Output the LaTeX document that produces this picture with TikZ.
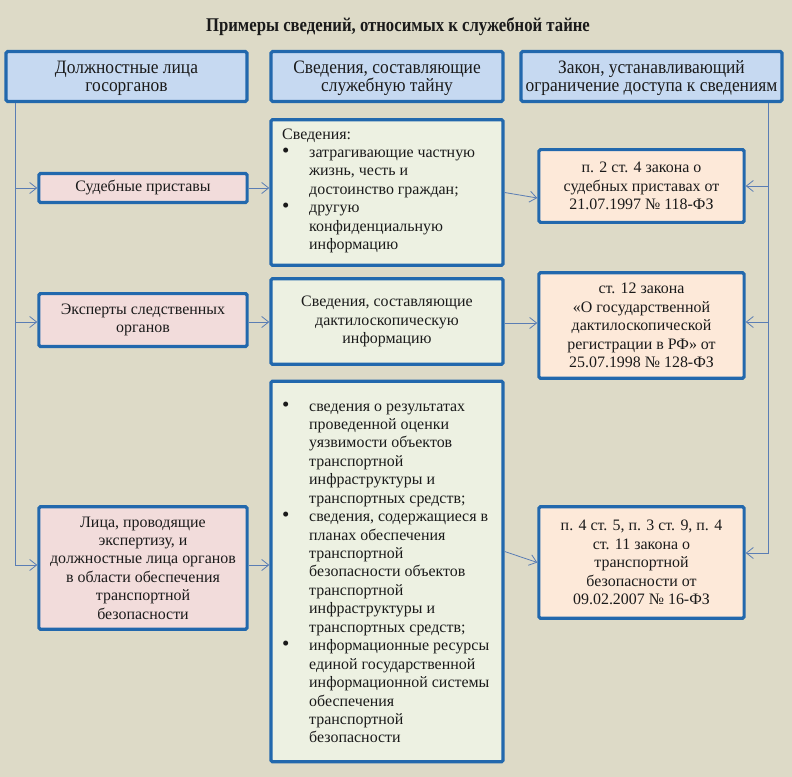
\documentclass[tikz,border=0pt]{standalone}
\usepackage{fontspec}
\setmainfont{Liberation Serif}
\newfontfamily\condfont[FakeStretch=0.86]{Liberation Serif}
\newfontfamily\hdrfont[FakeStretch=0.92]{Liberation Serif}
\usetikzlibrary{arrows.meta,calc}
\definecolor{bgcol}{HTML}{DDDAC7}
\definecolor{bordcol}{HTML}{2268AD}
\definecolor{hfill}{HTML}{C6D9F1}
\definecolor{pinkfill}{HTML}{F2DCDB}
\definecolor{greenfill}{HTML}{EDF1E2}
\definecolor{peachfill}{HTML}{FDE9D9}
\definecolor{linecol}{HTML}{5A7DB4}
\definecolor{txtcol}{HTML}{1A1A1A}
\newcommand{\bul}{{\fontsize{21}{18.5}\selectfont\textbullet}}
\begin{document}
\begin{tikzpicture}[x=1bp,y=-1bp,
  box/.style={draw=bordcol, line width=3.2bp, rounded corners=1.5bp, inner sep=0pt, align=center, text=txtcol,
    font=\fontsize{16}{18.5}\selectfont},
  hdrbox/.style={box, fill=hfill},
  hdrtext/.style={inner sep=0pt, align=center, text=txtcol, font=\hdrfont\fontsize{19}{18}\selectfont},
  leftbox/.style={box, fill=pinkfill},
  midbox/.style={box, fill=greenfill},
  lawbox/.style={box, fill=peachfill},
  listtext/.style={inner sep=0pt, anchor=north west, text=txtcol, font=\fontsize{16}{18.5}\selectfont},
  conn/.style={draw=linecol, line width=0.8bp, -{Straight Barb[length=7bp,width=11bp,line width=0.8bp]}},
]
\fill[bgcol] (0,0) rectangle (792,777);
\useasboundingbox (0,0) rectangle (792,777);

\node[font=\condfont\bfseries\fontsize{19.5}{20}\selectfont, text=txtcol] (title) at (398,27)
  {Примеры сведений, относимых к служебной тайне};

% headers
\node[hdrbox, minimum width=242, minimum height=50] (h1) at (126.5,76.5) {};
\node[hdrtext] (h1t) at ($(h1)+(0,2)$) {Должностные лица\\госорганов};
\node[hdrbox, minimum width=233, minimum height=50] (h2) at (387,76.5) {};
\node[hdrtext] (h2t) at ($(h2)+(0,2)$) {Сведения, составляющие\\служебную тайну};
\node[hdrbox, minimum width=262, minimum height=50] (h3) at (651.5,76.5) {};
\node[hdrtext] (h3t) at ($(h3)+(0,2)$) {Закон, устанавливающий\\ограничение доступа к сведениям};

% left column
\node[leftbox, minimum width=209, minimum height=29] (l1) at (143,188) {Судебные приставы};
\node[leftbox, minimum width=209, minimum height=53] (l2) at (143,320) {Эксперты следственных\\органов};
\node[leftbox, minimum width=209, minimum height=123] (l3) at (143,568)
  {Лица, проводящие\\экспертизу, и\\должностные лица органов\\в области обеспечения\\транспортной\\безопасности};

% middle column
\node[midbox, minimum width=233, minimum height=146] (m1) at (387,192.5) {};
\node[listtext] (m1t) at (282,126) {\begin{tabular}{@{}p{27bp}@{}l@{}}
\multicolumn{2}{@{}l@{}}{Сведения:}\\
\bul & затрагивающие частную\\
 & жизнь, честь и\\
 & достоинство граждан;\\
\bul & другую\\
 & конфиденциальную\\
 & информацию
\end{tabular}};
\node[midbox, minimum width=233, minimum height=86] (m2) at (387,321.5) {Сведения, составляющие\\дактилоскопическую\\информацию};
\node[midbox, minimum width=233, minimum height=382] (m3) at (387,571.5) {};
\node[listtext] (m3t) at (282,398) {\begin{tabular}{@{}p{27bp}@{}l@{}}
\bul & сведения о результатах\\
 & проведенной оценки\\
 & уязвимости объектов\\
 & транспортной\\
 & инфраструктуры и\\
 & транспортных средств;\\
\bul & сведения, содержащиеся в\\
 & планах обеспечения\\
 & транспортной\\
 & безопасности объектов\\
 & транспортной\\
 & инфраструктуры и\\
 & транспортных средств;\\
\bul & информационные ресурсы\\
 & единой государственной\\
 & информационной системы\\
 & обеспечения\\
 & транспортной\\
 & безопасности
\end{tabular}};

% right column
\node[lawbox, minimum width=206, minimum height=73] (r1) at (641.5,186) {п. 2 ст. 4 закона о\\судебных приставах от\\21.07.1997 № 118-ФЗ};
\node[lawbox, minimum width=206, minimum height=106] (r2) at (641.5,325.5) {ст. 12 закона\\«О государственной\\дактилоскопической\\регистрации в РФ» от\\25.07.1998 № 128-ФЗ};
\node[lawbox, minimum width=206, minimum height=112] (r3) at (641.5,562.5) {п. 4 ст. 5, п. 3 ст. 9, п. 4\\ст. 11 закона о\\транспортной\\безопасности от\\09.02.2007 № 16-ФЗ};

% connectors
\coordinate (lx) at (15,0);
\coordinate (rx) at (768,0);
\coordinate (l3in) at ($(l3.west)+(0,-3)$);
\draw[conn] (h1.south -| lx) |- (l3in);
\draw[conn] (l1.west -| lx) -- (l1.west);
\draw[conn] ($(l2.west -| lx)+(0,2)$) -- ($(l2.west)+(0,2)$);
\coordinate (r3in) at ($(r3.east)+(0,-9.5)$);
\draw[conn] (h3.south -| rx) |- (r3in);
\draw[conn] (r1.east -| rx) -- (r1.east);
\draw[conn] ($(r2.east -| rx)+(0,-3.5)$) -- ($(r2.east)+(0,-3.5)$);

\draw[conn] (l1.east) -- (l1.east -| m1.west);
\draw[conn] ($(l2.east)+(0,2)$) -- ($(l2.east -| m2.west)+(0,2)$);
\draw[conn] (l3in -| l3.east) -- (l3in -| m3.west);

\draw[conn] (m1.east) -- ($(r1.west)+(0,12)$);
\draw[conn] ($(m2.east)+(0,1.5)$) -- ($(m2.east -| r2.west)+(0,1.5)$);
\draw[conn] ($(m3.east)+(0,-20)$) -- (r3.west);
\end{tikzpicture}
\end{document}
